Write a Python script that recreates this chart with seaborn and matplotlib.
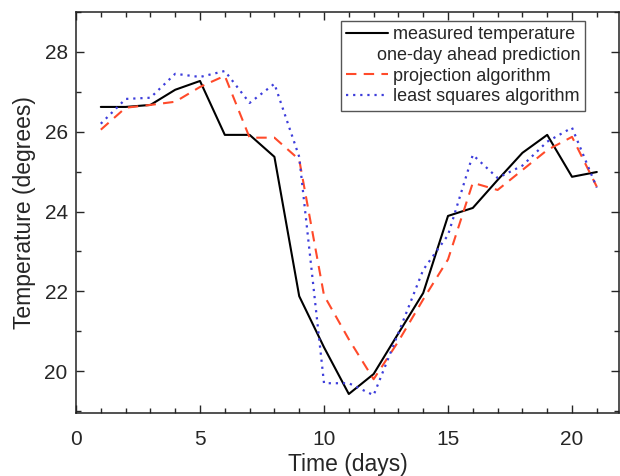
import numpy as np
import pandas as pd
import matplotlib
matplotlib.use("Agg")
import matplotlib.pyplot as plt
from matplotlib.lines import Line2D
from matplotlib.ticker import MultipleLocator
import seaborn as sns

sns.set_style("ticks")
plt.rcParams["font.family"] = ["Liberation Sans", "DejaVu Sans"]

days = list(range(1, 22))
measured = [26.62, 26.62, 26.67, 27.05, 27.27, 25.92, 25.92, 25.37, 21.88, 20.6, 19.43,
            19.93, 20.95, 21.96, 23.89, 24.09, 24.79, 25.47, 25.92, 24.87, 24.99]
projection = [26.05, 26.6, 26.67, 26.75, 27.12, 27.4, 25.85, 25.85, 25.3, 21.9, 20.8,
              19.8, 20.75, 21.8, 22.8, 24.72, 24.54, 25.04, 25.54, 25.87, 24.62]
least_squares = [26.2, 26.82, 26.85, 27.45, 27.37, 27.52, 26.72, 27.2, 25.37, 19.7, 19.7,
                 19.4, 20.96, 22.54, 23.41, 25.42, 24.84, 25.15, 25.75, 26.1, 24.6]

df = pd.DataFrame({"day": days, "measured": measured,
                   "projection": projection, "least_squares": least_squares})

fig = plt.figure(figsize=(6.2, 4.76), dpi=100)
ax = fig.add_axes([0.1226, 0.132, 0.876, 0.843])

sns.lineplot(data=df, x="day", y="measured", ax=ax, color="black", lw=1.5)
sns.lineplot(data=df, x="day", y="projection", ax=ax, color="#ff4a2a", lw=1.5,
             linestyle=(0, (5, 3.5)))
sns.lineplot(data=df, x="day", y="least_squares", ax=ax, color="#3d3ddb", lw=1.6,
             linestyle=(0, (1, 2.2)))

ax.set_xlim(0, 21.9)
ax.set_ylim(18.95, 29)
ax.xaxis.set_major_locator(MultipleLocator(5))
ax.xaxis.set_minor_locator(MultipleLocator(1))
ax.yaxis.set_major_locator(MultipleLocator(2))
ax.yaxis.set_minor_locator(MultipleLocator(1))
ax.tick_params(which="both", direction="in", top=True, right=True, labelsize=15, width=1)
ax.tick_params(which="major", length=6)
ax.tick_params(which="minor", length=3.5)
ax.tick_params(axis="x", which="major", pad=12)
ax.tick_params(axis="y", which="major", pad=6)
for s in ax.spines.values():
    s.set_linewidth(1.1)
    s.set_color("#222222")

ax.set_xlabel("Time (days)", fontsize=16.5, labelpad=3)
ax.set_ylabel("Temperature (degrees)", fontsize=16.5, labelpad=6)

handles = [Line2D([], [], color="black", lw=1.5),
           Line2D([], [], color="none"),
           Line2D([], [], color="#ff4a2a", lw=1.5, linestyle=(0, (5, 3.5))),
           Line2D([], [], color="#3d3ddb", lw=1.6, linestyle=(0, (1, 2.2)))]
labels = ["measured temperature", " ",
          "projection algorithm", "least squares algorithm"]
leg = ax.legend(handles, labels, loc="upper right", bbox_to_anchor=(0.937, 0.9775),
                fontsize=13, frameon=True, fancybox=False, framealpha=1,
                handlelength=2.3, handletextpad=0.3, labelspacing=0.2,
                borderpad=0.3, borderaxespad=0)
leg.get_frame().set_edgecolor("#555555")
leg.get_frame().set_linewidth(1)

# sub-heading row of the legend, starts a bit left of the other labels
ax.annotate("one-day ahead prediction", xy=(0, 0.5), xycoords=leg.get_texts()[1],
            xytext=(-16, 0), textcoords="offset pixels", va="center", ha="left",
            fontsize=13, zorder=6)

fig.savefig("out.png", dpi=100)
